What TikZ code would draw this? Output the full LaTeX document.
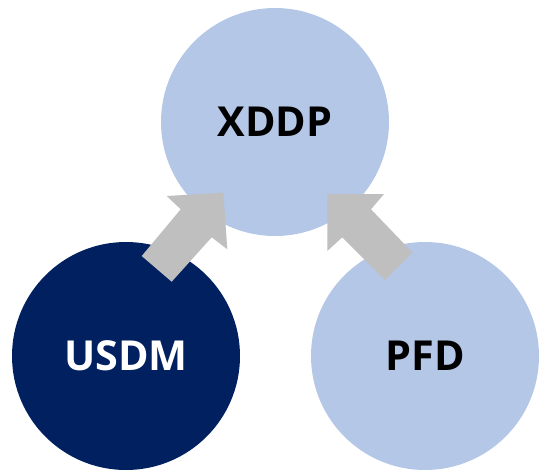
\documentclass[tikz,border=0pt]{standalone}
\usepackage{fontspec}
\setmainfont{Open Sans}
\definecolor{lightblue}{HTML}{B4C7E7}
\definecolor{navy}{HTML}{002060}
\definecolor{arrowgray}{HTML}{BFBFBF}
\begin{document}
\begin{tikzpicture}[x=0.75pt,y=-0.75pt,
  bubble/.style={circle,minimum size=228*0.75pt,inner sep=0pt,
    font=\bfseries\fontsize{31}{36}\selectfont},
  blockarrow/.style={fill=arrowgray,draw=none}]
\useasboundingbox (0,0) rectangle (539,469);
% the three circles
\node[bubble,fill=lightblue,text=black] (xddp) at (275,122) {XDDP};
\node[bubble,fill=navy,text=white] (usdm) at (126,356) {USDM};
\node[bubble,fill=lightblue,text=black] (pfd) at (425,356) {PFD};
% block arrow from USDM towards XDDP
\fill[blockarrow] (141.7,256) -- (180.7,209.3) -- (166.7,196) -- (223.3,192.7)
  -- (227.3,249.3) -- (211.7,237.3) -- (171.7,281.7) -- cycle;
% block arrow from PFD towards XDDP
\fill[blockarrow] (412.7,252.7) -- (371,209.3) -- (384,194) -- (327.3,194)
  -- (327.3,251) -- (342.3,237.3) -- (385,280) -- cycle;
\end{tikzpicture}
\end{document}
